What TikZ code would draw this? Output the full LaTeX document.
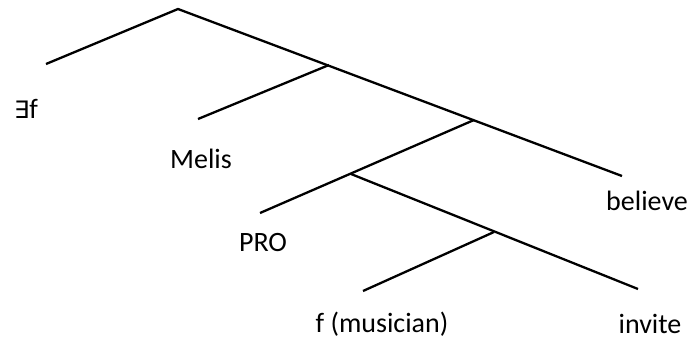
\documentclass[tikz,border=0pt]{standalone}
\usepackage{fontspec}
\setmainfont{Carlito}
\newfontfamily\symfont{DejaVu Sans}
\begin{document}
\begin{tikzpicture}[x=1pt,y=-1pt,
  edge/.style={line width=2.3pt,line cap=butt},
  lbl/.style={anchor=base,inner sep=0pt,font=\fontsize{28}{30}\selectfont}]
\useasboundingbox (0,0) rectangle (691,341);
% tree points
\coordinate (top) at (178,9);
\coordinate (a) at (46,64);
\coordinate (n2) at (329,65);
\coordinate (b) at (198,119);
\coordinate (n3) at (474,120);
\coordinate (c) at (622,176);
\coordinate (n4) at (351,174);
\coordinate (d) at (260,213);
\coordinate (n5) at (494,232);
\coordinate (e) at (638,289);
\coordinate (f) at (363,291);
\draw[edge] (a) -- (top) -- (c);
\draw[edge] (b) -- (n2);
\draw[edge] (d) -- (n3);
\draw[edge] (n4) -- (e);
\draw[edge] (f) -- (n5);
% labels
\node[lbl] (l1) at (26,118) {{\symfont\fontsize{24}{26}\selectfont ∃}f};
\node[lbl] (l2) at (201,168) {Melis};
\node[lbl] (l3) at (263,251) {PRO};
\node[lbl] (l4) at (647,210) {believe};
\node[lbl] (l5) at (382,332) {f (musician)};
\node[lbl] (l6) at (650,333) {invite};
\end{tikzpicture}
\end{document}
